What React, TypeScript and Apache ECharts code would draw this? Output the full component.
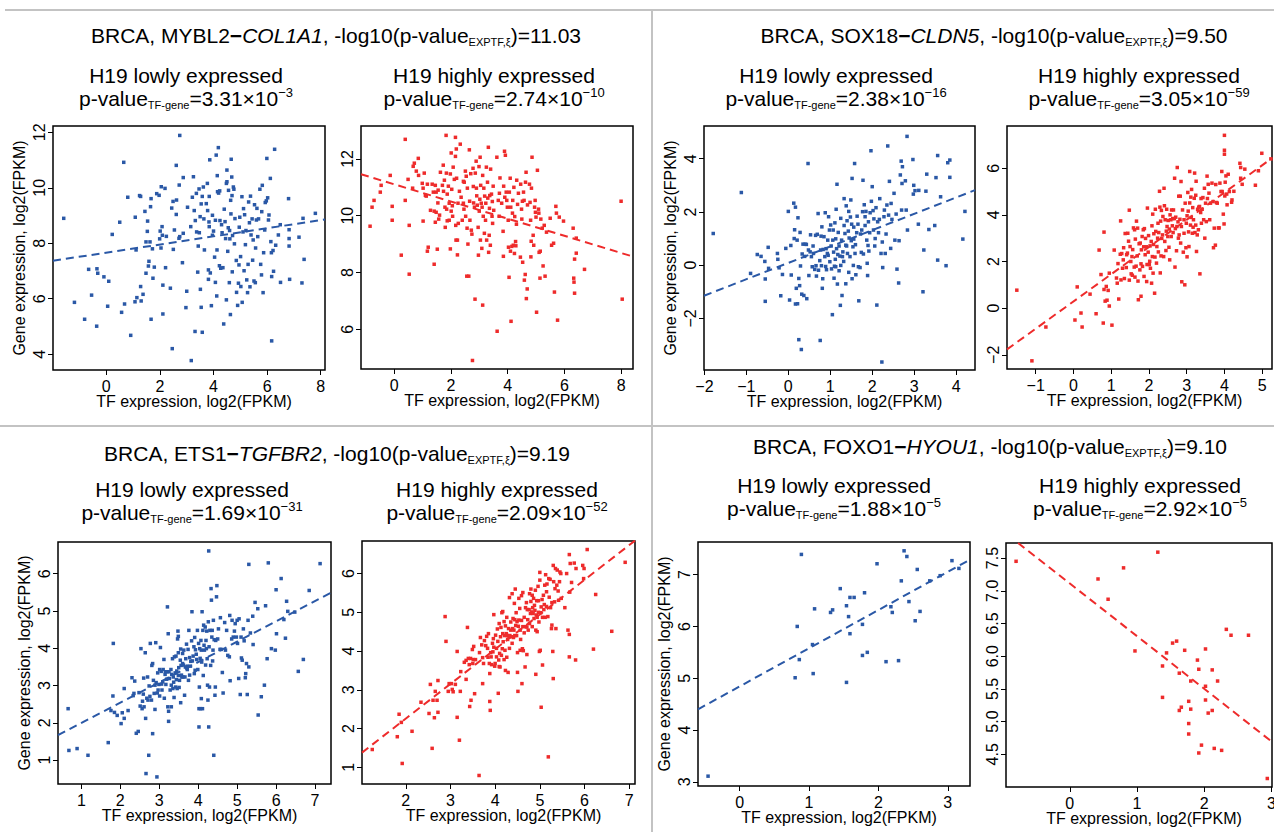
import React, { useEffect, useRef } from "react";
import * as echarts from "echarts";

// ---------------- DATA ----------------
// Panel 1: BRCA, MYBL2-COL1A1
const col1a1Low: number[][] = [
[-1.59,8.90],[-1.19,5.87],[-0.81,5.26],[-0.66,7.06],[-0.55,6.13],[-0.35,7.08],[-0.32,6.92],[-0.36,5.01],[-0.09,6.79],[0.05,5.73],[0.09,6.63],[0.22,8.32],[0.50,8.76],[0.57,5.51],[0.65,10.92],[0.68,5.81],[0.80,9.66],[0.91,4.68],[1.08,8.94],[1.11,7.76],[1.07,5.89],[1.14,6.04],[1.24,9.72],[1.28,9.69],[1.28,6.44],[1.30,5.92],[1.37,6.16],[1.44,9.15],[1.48,8.05],[1.48,6.92],[1.57,7.18],[1.54,8.80],[1.53,8.43],[1.59,7.35],[1.63,8.05],[1.65,9.32],[1.67,9.61],[1.67,5.26],[1.72,7.80],[1.74,6.74],[1.79,7.14],[1.88,9.79],[1.97,9.73],[1.99,8.16],[2.01,8.44],[2.04,7.83],[2.05,10.04],[2.08,8.60],[2.09,8.29],[2.11,6.49],[2.11,5.45],[2.19,9.98],[2.21,7.12],[2.24,8.25],[2.39,6.38],[2.44,9.27],[2.46,4.20],[2.49,9.51],[2.50,7.78],[2.54,8.48],[2.61,10.81],[2.61,9.04],[2.62,9.56],[2.71,8.18],[2.72,10.10],[2.74,11.89],[2.74,8.24],[2.84,7.30],[2.87,10.37],[2.87,8.36],[2.97,5.68],[3.00,6.27],[3.03,9.30],[3.15,8.60],[3.17,3.77],[3.21,9.66],[3.25,10.40],[3.28,9.18],[3.31,4.82],[3.32,8.82],[3.36,9.80],[3.37,8.41],[3.41,6.96],[3.43,7.90],[3.46,9.96],[3.47,8.38],[3.50,8.96],[3.51,6.34],[3.54,5.69],[3.54,9.42],[3.58,9.69],[3.58,4.79],[3.62,10.03],[3.64,8.88],[3.66,7.76],[3.73,9.43],[3.77,10.16],[3.78,9.18],[3.81,7.04],[3.81,6.70],[3.83,8.77],[3.84,8.60],[3.84,9.69],[3.86,11.01],[3.88,6.93],[3.92,5.75],[3.96,9.01],[3.96,8.29],[4.00,8.44],[4.04,7.50],[4.07,8.83],[4.07,6.59],[4.10,11.18],[4.12,6.10],[4.13,7.76],[4.14,10.44],[4.15,9.86],[4.18,11.45],[4.19,9.81],[4.22,7.19],[4.23,9.89],[4.24,8.82],[4.27,7.10],[4.30,8.67],[4.32,8.38],[4.35,7.12],[4.38,5.09],[4.40,9.23],[4.43,8.78],[4.45,8.17],[4.48,5.96],[4.48,10.16],[4.50,10.64],[4.50,10.22],[4.53,7.71],[4.55,8.56],[4.56,9.91],[4.59,6.58],[4.60,8.46],[4.61,8.16],[4.63,5.43],[4.64,9.55],[4.65,9.06],[4.66,11.03],[4.68,10.39],[4.69,9.72],[4.70,6.97],[4.71,8.28],[4.74,10.03],[4.76,9.95],[4.78,7.98],[4.80,8.89],[4.85,7.38],[4.86,6.23],[4.90,5.76],[4.93,6.56],[4.95,7.22],[4.96,8.58],[4.98,8.94],[5.01,7.52],[5.02,6.44],[5.06,9.68],[5.07,5.87],[5.10,8.41],[5.12,9.25],[5.14,7.01],[5.16,9.03],[5.19,7.95],[5.21,8.46],[5.24,6.68],[5.27,6.22],[5.29,7.24],[5.31,9.49],[5.34,8.74],[5.36,6.43],[5.38,9.70],[5.40,8.30],[5.44,8.88],[5.46,7.39],[5.48,8.12],[5.51,6.64],[5.53,9.39],[5.56,6.58],[5.57,7.83],[5.60,8.84],[5.62,9.26],[5.65,8.24],[5.68,8.88],[5.73,9.95],[5.76,7.24],[5.79,6.86],[5.80,9.14],[5.82,10.09],[5.85,6.22],[5.87,7.66],[5.91,8.48],[5.93,9.47],[5.97,9.53],[5.99,11.06],[6.02,9.64],[6.05,8.84],[6.07,9.02],[6.12,10.34],[6.14,8.06],[6.16,7.66],[6.17,6.80],[6.17,4.48],[6.22,7.74],[6.24,6.99],[6.28,11.39],[6.32,7.93],[6.42,8.30],[6.49,8.67],[6.50,6.59],[6.80,9.61],[6.82,8.49],[6.82,8.17],[6.82,7.90],[6.84,6.70],[7.19,8.22],[7.30,6.57],[7.34,8.90],[7.38,7.42],[7.80,9.08]
];
const col1a1High: number[][] = [
[-0.85,9.63],[-0.78,10.30],[-0.71,10.54],[-0.49,10.83],[-0.46,11.07],[-0.14,11.42],[-0.07,10.33],[-0.07,9.84],[0.39,12.69],[0.39,10.54],[0.49,11.28],[0.53,9.66],[0.53,7.94],[0.25,8.61],[0.65,10.97],[0.67,11.74],[0.71,11.85],[0.78,11.57],[0.85,12.02],[0.86,11.42],[0.99,11.14],[1.02,10.97],[1.02,9.81],[1.06,11.50],[1.10,10.72],[1.13,10.69],[1.17,11.11],[1.17,8.75],[1.20,8.89],[1.28,10.19],[1.34,11.11],[1.38,10.83],[1.41,8.29],[1.41,10.16],[1.45,11.07],[1.45,9.77],[1.48,10.83],[1.48,10.12],[1.52,8.82],[1.54,10.45],[1.55,10.90],[1.57,9.88],[1.60,10.02],[1.63,11.53],[1.70,11.07],[1.73,11.78],[1.74,10.86],[1.77,11.25],[1.79,10.30],[1.80,9.59],[1.83,12.83],[1.84,11.50],[1.85,10.23],[1.87,10.76],[1.87,9.82],[1.91,11.04],[1.94,10.44],[1.94,9.84],[1.98,8.83],[1.98,11.47],[2.01,12.21],[2.01,10.16],[2.03,10.93],[2.05,10.35],[2.06,9.98],[2.08,11.71],[2.12,11.28],[2.16,12.76],[2.16,12.09],[2.17,9.66],[2.18,9.14],[2.19,12.35],[2.20,11.32],[2.23,8.62],[2.23,9.14],[2.25,10.44],[2.26,9.73],[2.30,10.86],[2.33,12.52],[2.36,10.65],[2.40,9.84],[2.44,11.21],[2.44,10.44],[2.46,10.23],[2.47,11.18],[2.51,11.57],[2.52,9.98],[2.54,11.39],[2.56,7.87],[2.57,9.56],[2.58,10.97],[2.60,9.00],[2.63,7.87],[2.65,12.32],[2.66,10.51],[2.67,9.84],[2.70,11.48],[2.72,9.49],[2.74,9.35],[2.76,4.90],[2.78,11.67],[2.79,11.03],[2.80,10.45],[2.83,10.30],[2.85,7.06],[2.86,11.50],[2.89,11.92],[2.90,10.97],[2.91,10.70],[2.93,10.37],[2.96,9.59],[2.97,8.61],[2.99,11.73],[3.00,10.16],[3.02,10.58],[3.03,12.06],[3.04,9.14],[3.05,11.07],[3.07,10.44],[3.09,8.85],[3.10,10.30],[3.12,6.85],[3.12,11.42],[3.14,9.98],[3.16,10.97],[3.18,9.38],[3.19,10.69],[3.22,9.84],[3.23,10.44],[3.25,11.71],[3.26,9.14],[3.29,11.18],[3.30,10.62],[3.32,12.41],[3.33,8.71],[3.35,9.31],[3.36,10.26],[3.37,10.71],[3.39,8.96],[3.40,11.64],[3.43,10.76],[3.45,9.98],[3.46,10.50],[3.47,9.73],[3.49,11.04],[3.51,10.19],[3.62,12.06],[3.63,5.93],[3.67,10.54],[3.70,9.98],[3.71,10.79],[3.73,11.33],[3.79,10.44],[3.84,9.45],[3.85,8.57],[3.86,11.04],[3.89,12.27],[3.90,10.65],[3.92,12.13],[3.95,10.83],[3.97,10.54],[3.99,10.30],[4.02,9.84],[4.03,8.89],[4.05,7.83],[4.06,10.83],[4.09,11.32],[4.10,8.75],[4.11,10.30],[4.12,6.28],[4.15,8.92],[4.17,10.09],[4.18,10.54],[4.20,8.96],[4.22,11.00],[4.24,8.67],[4.25,9.97],[4.28,9.09],[4.29,8.94],[4.31,9.70],[4.32,11.25],[4.35,10.40],[4.38,10.79],[4.45,8.54],[4.46,11.11],[4.49,10.23],[4.50,9.88],[4.52,10.51],[4.53,8.36],[4.56,10.83],[4.58,10.54],[4.59,7.73],[4.62,7.93],[4.63,11.18],[4.65,11.53],[4.66,7.08],[4.69,7.42],[4.70,10.38],[4.77,11.11],[4.79,10.47],[4.81,9.84],[4.82,8.55],[4.83,9.10],[4.84,10.97],[4.86,12.06],[4.90,9.31],[4.92,8.96],[4.95,10.30],[4.97,10.54],[4.98,10.12],[5.00,9.95],[5.02,6.60],[5.05,11.60],[5.09,10.23],[5.10,10.09],[5.11,8.71],[5.14,7.80],[5.15,8.75],[5.17,9.88],[5.22,9.56],[5.25,8.23],[5.29,9.66],[5.32,7.87],[5.37,9.42],[5.50,9.91],[5.55,8.96],[5.62,9.03],[5.65,7.31],[5.70,10.33],[5.72,10.09],[5.76,6.32],[5.82,9.95],[5.97,9.81],[6.31,9.56],[6.33,7.80],[6.34,7.66],[6.36,7.27],[6.36,8.47],[6.42,8.68],[6.42,9.21],[6.71,8.11],[8.00,10.51],[8.04,7.06]
];
const col1a1LowFit: number[][] = [[-1.99, 7.37], [8.16, 8.86]];
const col1a1HighFit: number[][] = [[-1.17, 11.46], [8.42, 8.56]];

// Panel 2: BRCA, SOX18-CLDN5
const cldn5Low: number[][] = [
[-1.79,1.19],[-1.12,2.73],[-0.90,-0.31],[-0.74,0.40],[-0.65,0.33],[-0.56,0.14],[-0.55,-0.52],[-0.55,-1.36],[-0.48,0.67],[-0.47,-0.12],[-0.26,0.44],[-0.25,0.22],[-0.22,-0.10],[-0.18,-1.15],[-0.14,-0.35],[-0.06,0.63],[0.00,2.02],[0.03,-1.31],[0.06,0.74],[0.07,-0.37],[0.13,2.33],[0.14,1.00],[0.15,1.33],[0.17,2.18],[0.17,-1.46],[0.19,-0.87],[0.21,0.94],[0.22,-1.45],[0.23,1.78],[0.25,-0.50],[0.25,-2.80],[0.27,-0.77],[0.28,1.23],[0.29,-0.03],[0.31,-3.17],[0.32,-1.09],[0.33,0.42],[0.35,0.79],[0.37,-1.14],[0.39,0.33],[0.40,0.79],[0.43,0.78],[0.44,-1.26],[0.47,3.82],[0.48,0.57],[0.49,-0.39],[0.52,0.50],[0.53,1.14],[0.55,0.32],[0.57,-0.06],[0.59,0.72],[0.60,0.44],[0.63,-0.16],[0.65,1.12],[0.66,-0.02],[0.67,-0.41],[0.69,1.16],[0.71,1.94],[0.72,-0.19],[0.75,0.17],[0.76,-2.83],[0.77,0.57],[0.78,1.09],[0.79,-0.02],[0.80,1.44],[0.81,-0.87],[0.82,-0.51],[0.83,0.59],[0.85,1.07],[0.87,0.32],[0.88,1.97],[0.89,-0.05],[0.90,0.62],[0.91,-0.17],[0.93,0.44],[0.94,0.94],[0.95,0.37],[0.96,1.82],[0.98,1.32],[0.99,0.13],[1.01,1.51],[1.02,0.72],[1.03,-0.14],[1.05,-1.86],[1.06,0.94],[1.07,1.32],[1.08,0.49],[1.09,-0.49],[1.10,-0.04],[1.11,1.59],[1.12,0.22],[1.13,0.99],[1.13,-0.06],[1.14,2.10],[1.15,0.62],[1.16,3.04],[1.17,-0.71],[1.18,0.40],[1.19,1.23],[1.21,-0.21],[1.21,0.72],[1.23,0.34],[1.24,-1.51],[1.25,1.76],[1.25,-0.01],[1.27,0.94],[1.28,-1.14],[1.29,0.32],[1.30,0.50],[1.32,0.14],[1.33,1.49],[1.33,2.50],[1.35,1.19],[1.37,0.75],[1.37,-0.70],[1.38,2.23],[1.39,0.72],[1.40,1.67],[1.41,0.44],[1.43,1.28],[1.44,-0.27],[1.44,2.02],[1.45,1.02],[1.47,0.32],[1.48,1.81],[1.49,2.45],[1.50,0.92],[1.51,1.54],[1.52,-0.51],[1.52,3.26],[1.54,0.69],[1.55,-0.01],[1.56,1.43],[1.56,0.98],[1.58,3.82],[1.59,0.44],[1.60,0.77],[1.61,-0.36],[1.63,1.22],[1.64,1.84],[1.66,1.54],[1.67,-0.06],[1.68,-1.34],[1.71,-0.09],[1.72,1.17],[1.74,0.48],[1.75,1.32],[1.77,2.01],[1.78,3.19],[1.79,0.42],[1.81,2.27],[1.83,1.49],[1.83,1.82],[1.85,2.02],[1.87,0.94],[1.88,0.07],[1.89,-0.39],[1.90,0.74],[1.91,1.63],[1.92,0.53],[1.94,1.22],[1.95,1.97],[1.97,4.30],[1.98,2.40],[2.00,2.95],[2.02,2.05],[2.03,1.32],[2.04,1.74],[2.06,0.72],[2.07,1.00],[2.09,2.16],[2.11,-1.50],[2.13,1.63],[2.15,1.22],[2.17,1.72],[2.18,2.50],[2.21,0.44],[2.23,-3.64],[2.24,0.87],[2.25,-0.09],[2.28,1.82],[2.29,2.07],[2.31,0.44],[2.33,1.17],[2.35,2.26],[2.37,4.48],[2.39,1.88],[2.41,3.15],[2.44,0.63],[2.45,2.32],[2.47,1.72],[2.52,2.70],[2.54,0.94],[2.57,1.92],[2.59,-0.15],[2.63,-0.67],[2.64,0.92],[2.67,3.39],[2.69,3.91],[2.70,2.07],[2.71,3.07],[2.72,3.70],[2.79,3.17],[2.81,2.07],[2.84,1.32],[2.83,4.84],[2.97,3.97],[2.98,2.67],[2.99,3.00],[3.02,2.80],[3.10,1.54],[3.11,2.81],[3.21,-1.00],[3.23,0.57],[3.28,2.78],[3.30,3.42],[3.35,1.34],[3.49,1.49],[3.52,3.29],[3.56,4.12],[3.56,0.19],[3.63,2.57],[3.76,-0.02],[3.80,3.85],[3.85,3.95],[3.85,3.30],[4.16,0.98],[4.21,2.02]
];
const cldn5High: number[][] = [
[-1.50,0.77],[-1.10,-2.26],[-0.73,-0.81],[0.04,-0.51],[0.10,0.91],[0.20,-0.21],[0.23,-0.81],[0.44,0.60],[0.60,-0.24],[0.68,2.49],[0.73,1.44],[0.79,-0.64],[0.81,3.26],[0.81,0.80],[0.84,0.30],[0.87,0.93],[0.89,0.34],[0.92,0.76],[0.95,0.09],[0.95,1.50],[1.02,-0.73],[1.08,2.49],[1.14,1.29],[1.16,1.07],[1.18,1.91],[1.20,0.39],[1.24,2.31],[1.25,3.74],[1.26,1.21],[1.28,2.34],[1.30,1.71],[1.32,2.07],[1.33,2.59],[1.35,1.27],[1.37,3.20],[1.40,1.74],[1.41,2.29],[1.43,2.36],[1.44,3.21],[1.46,2.87],[1.48,4.20],[1.48,1.20],[1.50,2.64],[1.52,2.00],[1.53,1.47],[1.55,2.21],[1.56,1.41],[1.57,2.51],[1.59,3.44],[1.61,1.76],[1.62,3.36],[1.63,1.33],[1.64,2.96],[1.66,1.80],[1.67,3.73],[1.69,2.24],[1.70,3.43],[1.71,1.16],[1.72,0.36],[1.74,2.76],[1.76,1.64],[1.77,2.79],[1.79,0.51],[1.79,1.90],[1.80,2.50],[1.82,3.07],[1.83,1.79],[1.85,3.36],[1.86,2.63],[1.87,1.36],[1.88,3.41],[1.90,2.29],[1.91,2.99],[1.93,2.63],[1.94,1.14],[1.95,1.87],[1.96,4.29],[1.98,2.40],[1.99,3.11],[2.01,1.87],[2.02,2.01],[2.03,2.67],[2.04,1.71],[2.06,2.86],[2.07,1.07],[2.08,3.53],[2.09,2.21],[2.10,4.03],[2.11,1.50],[2.12,2.73],[2.13,3.19],[2.15,0.64],[2.16,2.19],[2.17,4.24],[2.18,3.29],[2.20,1.93],[2.21,2.64],[2.23,3.00],[2.24,3.64],[2.25,2.41],[2.26,3.24],[2.28,5.01],[2.29,4.33],[2.30,1.51],[2.31,3.73],[2.32,2.24],[2.33,4.19],[2.34,2.99],[2.36,3.14],[2.37,3.93],[2.39,2.21],[2.40,5.14],[2.41,4.39],[2.42,2.86],[2.43,3.79],[2.45,2.47],[2.46,3.30],[2.47,4.24],[2.48,3.50],[2.50,3.07],[2.51,3.76],[2.53,2.61],[2.54,3.39],[2.55,2.07],[2.56,4.00],[2.58,3.79],[2.59,3.07],[2.60,4.21],[2.62,3.53],[2.63,3.84],[2.64,3.24],[2.65,4.21],[2.67,3.84],[2.68,5.57],[2.69,1.76],[2.70,3.41],[2.71,3.90],[2.73,2.46],[2.74,3.50],[2.75,6.03],[2.77,3.70],[2.78,3.00],[2.79,4.80],[2.80,3.14],[2.82,3.81],[2.83,4.80],[2.84,2.79],[2.85,5.43],[2.86,3.50],[2.87,1.13],[2.89,4.21],[2.91,2.40],[2.93,3.79],[2.93,3.21],[2.95,1.00],[2.96,4.50],[2.98,2.59],[2.99,3.64],[3.01,2.20],[3.01,3.96],[3.03,4.96],[3.04,4.16],[3.05,3.27],[3.06,2.64],[3.08,4.51],[3.08,5.86],[3.10,3.56],[3.11,4.76],[3.12,3.89],[3.13,5.09],[3.15,3.21],[3.16,4.31],[3.17,3.47],[3.18,3.79],[3.20,4.71],[3.21,5.79],[3.22,3.24],[3.24,4.84],[3.24,3.56],[3.25,5.44],[3.26,2.43],[3.28,3.14],[3.29,4.24],[3.31,3.36],[3.32,4.33],[3.34,4.36],[3.35,1.47],[3.37,4.10],[3.38,4.70],[3.39,3.64],[3.41,4.24],[3.43,4.74],[3.45,3.79],[3.47,5.14],[3.48,3.00],[3.50,4.50],[3.52,3.71],[3.54,5.66],[3.55,4.70],[3.57,5.31],[3.59,4.93],[3.61,3.79],[3.63,4.50],[3.67,5.36],[3.70,4.57],[3.71,2.59],[3.73,3.43],[3.76,2.70],[3.77,5.30],[3.79,4.53],[3.81,4.50],[3.84,3.44],[3.86,3.44],[3.88,5.36],[3.91,5.00],[3.93,5.86],[3.94,5.00],[3.97,4.03],[3.99,3.61],[4.00,7.41],[4.00,6.77],[4.00,6.60],[4.01,4.81],[4.02,5.40],[4.04,5.67],[4.06,4.89],[4.07,4.43],[4.10,5.74],[4.13,5.00],[4.19,4.54],[4.20,4.64],[4.25,5.01],[4.41,6.21],[4.43,6.03],[4.43,5.57],[4.47,5.31],[4.54,5.96],[4.82,5.27],[4.90,5.89],[4.99,6.64],[5.23,6.40]
];
const cldn5LowFit: number[][] = [[-2.01, -1.15], [4.45, 2.82]];
const cldn5HighFit: number[][] = [[-1.76, -1.77], [5.26, 6.43]];

// Panel 3: BRCA, ETS1-TGFBR2
const tgfbr2Low: number[][] = [
[0.66,2.38],[0.68,1.26],[0.89,1.31],[1.17,1.13],[1.69,1.47],[1.76,2.33],[1.81,2.72],[1.82,4.13],[1.85,2.28],[1.92,2.20],[2.02,1.98],[2.05,2.27],[2.10,2.12],[2.10,2.92],[2.20,2.33],[2.30,3.21],[2.33,2.73],[2.35,2.79],[2.37,3.12],[2.41,1.72],[2.46,1.77],[2.48,2.81],[2.51,2.45],[2.53,3.99],[2.56,2.38],[2.57,2.58],[2.59,2.77],[2.60,3.20],[2.61,2.43],[2.64,3.88],[2.65,2.12],[2.66,0.64],[2.68,2.66],[2.70,3.23],[2.71,2.61],[2.73,1.13],[2.74,2.99],[2.76,2.71],[2.77,4.13],[2.80,2.61],[2.81,3.54],[2.83,1.71],[2.83,3.59],[2.85,3.14],[2.87,2.79],[2.89,2.36],[2.89,3.01],[2.91,4.15],[2.92,3.08],[2.94,0.55],[2.95,2.80],[2.96,3.34],[2.97,2.88],[2.99,3.03],[3.01,3.43],[3.01,2.72],[3.03,4.02],[3.05,3.38],[3.06,3.04],[3.07,2.88],[3.09,3.10],[3.10,3.43],[3.12,3.70],[3.13,2.66],[3.15,3.30],[3.16,3.37],[3.17,3.03],[3.19,3.17],[3.20,3.37],[3.21,5.11],[3.22,2.43],[3.23,4.39],[3.24,2.04],[3.24,2.31],[3.25,3.37],[3.26,3.19],[3.28,2.88],[3.30,3.43],[3.31,3.01],[3.31,2.43],[3.32,3.30],[3.34,3.72],[3.35,2.92],[3.36,3.23],[3.37,3.09],[3.38,2.68],[3.39,3.77],[3.41,3.34],[3.42,2.96],[3.43,3.79],[3.44,3.16],[3.45,3.39],[3.46,2.92],[3.47,4.25],[3.48,4.46],[3.49,4.32],[3.49,3.88],[3.49,3.27],[3.50,3.48],[3.51,2.95],[3.52,3.14],[3.54,3.68],[3.55,2.54],[3.55,3.98],[3.56,3.54],[3.57,3.28],[3.58,3.23],[3.60,3.59],[3.60,3.86],[3.61,3.23],[3.62,3.55],[3.63,3.95],[3.65,2.74],[3.66,3.23],[3.67,3.50],[3.68,3.72],[3.70,4.11],[3.72,3.43],[3.72,3.52],[3.74,3.97],[3.75,3.14],[3.76,4.48],[3.78,3.28],[3.78,3.75],[3.80,3.52],[3.81,3.65],[3.83,4.20],[3.84,4.98],[3.85,3.66],[3.87,3.79],[3.89,4.04],[3.90,3.32],[3.91,4.29],[3.92,3.41],[3.93,3.96],[3.95,3.84],[3.96,3.70],[3.98,4.48],[3.99,3.43],[4.01,4.13],[4.02,1.89],[4.02,2.38],[4.03,2.96],[4.04,3.99],[4.05,3.73],[4.06,2.38],[4.07,4.21],[4.08,2.65],[4.08,3.95],[4.09,3.63],[4.10,4.98],[4.11,2.38],[4.12,4.48],[4.13,3.27],[4.14,4.62],[4.15,4.08],[4.16,3.95],[4.18,4.57],[4.19,3.55],[4.20,4.21],[4.21,3.99],[4.22,4.46],[4.23,3.72],[4.24,3.01],[4.25,2.61],[4.26,4.71],[4.27,1.89],[4.27,6.61],[4.28,4.04],[4.29,2.96],[4.30,4.48],[4.32,3.54],[4.33,5.60],[4.34,5.29],[4.35,4.30],[4.36,4.48],[4.37,3.66],[4.38,3.95],[4.39,4.75],[4.40,1.13],[4.41,4.23],[4.43,2.74],[4.44,2.96],[4.45,4.21],[4.47,5.38],[4.48,5.68],[4.50,4.25],[4.52,4.52],[4.56,3.97],[4.57,4.82],[4.59,3.97],[4.62,3.35],[4.64,2.80],[4.68,4.69],[4.70,3.95],[4.73,4.48],[4.76,3.81],[4.80,3.77],[4.81,4.88],[4.82,3.13],[4.86,4.25],[4.87,4.75],[4.90,4.30],[4.93,4.46],[4.95,4.66],[4.98,4.30],[5.00,4.75],[5.01,4.13],[5.04,3.19],[5.05,4.79],[5.08,2.76],[5.10,4.30],[5.11,3.74],[5.13,3.68],[5.16,4.52],[5.18,4.20],[5.21,3.21],[5.22,3.32],[5.24,3.59],[5.26,2.76],[5.28,4.75],[5.30,3.50],[5.34,4.41],[5.40,4.86],[5.41,4.10],[5.46,5.23],[5.53,5.06],[5.54,2.21],[5.62,2.70],[5.70,3.01],[5.73,5.14],[5.77,3.72],[5.80,6.29],[5.88,3.99],[5.98,3.95],[6.00,5.57],[6.01,4.39],[6.13,5.87],[6.20,4.77],[6.24,4.27],[6.27,5.26],[6.30,4.99],[6.48,4.97],[6.57,3.38],[6.70,3.70],[6.85,5.55],[7.13,6.27],[5.30,6.25]
];
const tgfbr2High: number[][] = [
[1.25,1.46],[1.81,1.79],[1.85,2.37],[1.92,1.10],[1.90,2.16],[2.14,1.93],[2.34,2.68],[2.52,2.39],[2.55,3.14],[2.59,1.49],[2.64,2.28],[2.61,2.73],[2.66,2.96],[2.70,2.73],[2.72,3.24],[2.72,2.42],[2.88,4.89],[2.90,4.25],[2.95,2.96],[2.97,3.16],[3.02,3.16],[3.04,3.01],[3.06,2.95],[3.11,3.14],[3.15,2.29],[3.15,3.99],[3.20,1.70],[3.22,2.96],[3.23,3.47],[3.31,3.71],[3.35,3.27],[3.35,3.76],[3.38,4.61],[3.40,3.81],[3.42,3.65],[3.43,2.57],[3.45,3.81],[3.46,2.73],[3.49,4.04],[3.50,3.68],[3.51,3.78],[3.52,4.12],[3.54,2.90],[3.56,3.78],[3.64,0.79],[3.65,3.96],[3.67,4.35],[3.70,4.16],[3.72,3.16],[3.72,3.83],[3.74,3.68],[3.76,4.27],[3.79,4.14],[3.81,4.38],[3.83,4.07],[3.84,3.84],[3.85,4.45],[3.87,3.68],[3.88,3.42],[3.88,2.70],[3.89,2.47],[3.90,3.96],[3.91,3.85],[3.92,3.65],[3.94,4.20],[3.95,3.98],[3.96,4.32],[3.97,4.10],[3.97,4.94],[3.99,3.61],[4.00,3.68],[4.01,4.41],[4.03,3.85],[4.03,4.07],[4.05,4.57],[4.06,4.25],[4.07,2.91],[4.08,3.77],[4.09,3.60],[4.09,4.71],[4.10,3.94],[4.11,3.59],[4.12,4.37],[4.13,4.61],[4.14,3.89],[4.15,4.99],[4.16,4.06],[4.17,4.45],[4.17,5.02],[4.18,4.24],[4.20,3.78],[4.20,4.76],[4.21,4.40],[4.22,4.02],[4.23,4.65],[4.23,3.50],[4.25,4.45],[4.26,3.84],[4.26,4.87],[4.27,4.40],[4.28,4.30],[4.29,3.45],[4.30,4.58],[4.31,4.37],[4.32,5.38],[4.32,4.07],[4.33,4.40],[4.35,4.54],[4.35,4.75],[4.37,4.37],[4.38,5.48],[4.38,4.20],[4.39,4.58],[4.40,4.84],[4.41,4.35],[4.42,4.54],[4.43,5.23],[4.44,4.81],[4.44,4.40],[4.45,5.60],[4.46,4.66],[4.47,4.99],[4.48,4.40],[4.49,4.76],[4.50,3.96],[4.50,3.45],[4.51,2.96],[4.52,4.64],[4.53,5.36],[4.53,4.80],[4.55,5.10],[4.56,4.54],[4.56,4.02],[4.57,4.30],[4.59,4.79],[4.59,5.43],[4.60,3.16],[4.61,4.06],[4.62,4.63],[4.62,5.51],[4.63,4.01],[4.65,4.87],[4.65,4.47],[4.67,3.59],[4.68,4.63],[4.68,5.12],[4.70,5.25],[4.71,3.91],[4.71,4.62],[4.72,5.07],[4.73,4.81],[4.74,4.54],[4.76,5.07],[4.77,5.48],[4.77,4.71],[4.79,4.97],[4.80,5.60],[4.80,5.28],[4.82,5.01],[4.83,5.44],[4.83,4.63],[4.84,5.12],[4.85,4.97],[4.86,5.36],[4.87,4.84],[4.88,5.18],[4.89,5.05],[4.90,5.57],[4.91,3.40],[4.91,4.54],[4.92,4.93],[4.93,5.30],[4.94,4.50],[4.94,4.87],[4.96,5.67],[4.97,5.00],[4.97,5.30],[4.98,4.75],[4.99,3.99],[5.00,6.03],[5.00,5.83],[5.01,4.02],[5.02,4.99],[5.03,2.55],[5.03,5.14],[5.05,5.33],[5.06,3.64],[5.06,4.87],[5.08,5.44],[5.09,5.07],[5.10,5.20],[5.11,5.70],[5.12,4.87],[5.13,5.97],[5.15,5.53],[5.15,5.15],[5.16,5.73],[5.18,4.89],[5.19,1.27],[5.20,5.87],[5.21,5.39],[5.23,5.85],[5.24,5.12],[5.26,4.58],[5.27,4.67],[5.27,5.25],[5.29,3.99],[5.30,6.21],[5.30,3.29],[5.31,5.79],[5.33,5.27],[5.34,5.61],[5.35,6.13],[5.36,4.58],[5.38,5.70],[5.39,6.09],[5.41,5.55],[5.42,5.31],[5.44,5.79],[5.45,6.04],[5.47,6.00],[5.48,5.36],[5.56,5.12],[5.60,6.00],[5.63,4.54],[5.66,4.43],[5.66,6.49],[5.66,3.85],[5.67,5.52],[5.68,6.26],[5.71,5.77],[5.77,6.27],[5.80,3.77],[5.81,6.13],[5.96,6.21],[5.98,5.87],[5.99,6.13],[6.06,6.62],[6.20,4.05],[6.25,5.46],[6.61,4.51],[6.91,6.29]
];
const tgfbr2LowFit: number[][] = [[0.40, 1.67], [7.41, 5.49]];
const tgfbr2HighFit: number[][] = [[1.02, 1.38], [7.13, 6.85]];

// Panel 4: BRCA, FOXO1-HYOU1
const hyou1Low: number[][] = [
[-0.455,3.11],[0.89,7.39],[0.83,6.00],[0.80,5.01],[0.86,5.36],[1.06,5.09],[1.05,5.65],[1.08,6.34],[1.31,6.27],[1.34,6.32],[1.45,6.73],[1.54,6.40],[1.57,6.19],[1.59,5.86],[1.54,4.92],[1.59,6.56],[1.65,6.56],[1.77,6.04],[1.80,6.65],[1.77,5.44],[1.84,5.50],[1.98,7.21],[2.11,5.32],[2.18,6.38],[2.20,6.27],[2.29,5.34],[2.33,6.88],[2.37,7.46],[2.41,7.35],[2.44,6.48],[2.53,6.11],[2.56,7.10],[2.60,6.29],[2.74,6.88],[2.89,6.98],[3.06,7.27],[3.16,7.12]
];
const hyou1High: number[][] = [
[-0.80,7.45],[0.42,7.18],[0.57,6.87],[0.80,7.35],[1.31,7.59],[0.97,6.08],[1.38,5.85],[1.38,5.37],[1.44,6.05],[1.53,6.20],[1.59,6.23],[1.71,6.09],[1.63,5.74],[1.63,5.17],[1.66,5.22],[1.77,5.31],[1.80,5.62],[1.80,5.19],[1.77,4.97],[1.77,4.81],[1.90,5.94],[1.92,5.80],[1.96,4.64],[1.92,4.52],[2.02,6.11],[2.02,5.54],[2.02,5.33],[2.06,5.13],[2.12,5.79],[2.12,5.17],[2.15,4.59],[2.20,5.62],[2.26,4.56],[2.33,6.41],[2.40,6.32],[2.66,6.32],[2.94,4.13]
];
const hyou1LowFit: number[][] = [[-0.60, 4.40], [3.32, 7.29]];
const hyou1HighFit: number[][] = [[-0.77, 7.73], [3.01, 4.69]];

// axis extents (data units) and tick labels
const xRangeA = [-1.99, 8.16], yRangeA = [3.43, 12.23];
const xRangeB = [-1.17, 8.42], yRangeB = [4.6, 13.16];
const xRangeC = [-2.01, 4.45], yRangeC = [-3.94, 5.23];
const xRangeD = [-1.76, 5.26], yRangeD = [-2.61, 7.81];
const xRangeE = [0.40, 7.41], yRangeE = [0.36, 6.85];
const xRangeF = [1.02, 7.13], yRangeF = [0.57, 6.84];
const xRangeG = [-0.60, 3.32], yRangeG = [2.92, 7.63];
const xRangeH = [-0.95, 3.01], yRangeH = [4.0, 7.73];

const xTicksA = [0, 2, 4, 6, 8], yTicksA = [4, 6, 8, 10, 12];
const xTicksB = [0, 2, 4, 6, 8], yTicksB = [6, 8, 10, 12];
const xTicksC = [-2, -1, 0, 1, 2, 3, 4], yTicksC = [-2, 0, 2, 4];
const xTicksD = [-1, 0, 1, 2, 3, 4, 5], yTicksD = [-2, 0, 2, 4, 6];
const xTicksE = [1, 2, 3, 4, 5, 6, 7], yTicksE = [1, 2, 3, 4, 5, 6];
const xTicksF = [2, 3, 4, 5, 6, 7], yTicksF = [1, 2, 3, 4, 5, 6];
const xTicksG = [0, 1, 2, 3], yTicksG = [3, 4, 5, 6, 7];
const xTicksH = [0, 1, 2, 3], yTicksH = [4.5, 5.0, 5.5, 6.0, 6.5, 7.0, 7.5];

// titles
const panelTF = ["MYBL2", "SOX18", "ETS1", "FOXO1"];
const panelGene = ["COL1A1", "CLDN5", "TGFBR2", "HYOU1"];
const panelScore = ["11.03", "9.50", "9.19", "9.10"];
const pvalMant = ["3.31", "2.74", "2.38", "3.05", "1.69", "2.09", "1.88", "2.92"];
const pvalExp = ["−3", "−10", "−16", "−59", "−31", "−52", "−5", "−5"];
const groupLabels = ["H19 lowly expressed", "H19 highly expressed"];

// ---------------- STYLE / LAYOUT ----------------
const FONT = "'Liberation Sans', Arial, Helvetica, sans-serif";
const BLUE = "#2a58a6";
const RED = "#ee2b2b";
const TITLE_SIZE = 21;

type Plot = {
  box: number[]; // left, top, right, bottom (px)
  xr: number[]; yr: number[];
  xt: number[]; yt: number[];
  pts: number[][]; fit: number[][];
  color: string; yName: boolean; dec?: boolean;
};

const plots: Plot[] = [
  { box: [53, 126, 325, 370], xr: xRangeA, yr: yRangeA, xt: xTicksA, yt: yTicksA, pts: col1a1Low, fit: col1a1LowFit, color: BLUE, yName: true },
  { box: [361, 126, 633, 369], xr: xRangeB, yr: yRangeB, xt: xTicksB, yt: yTicksB, pts: col1a1High, fit: col1a1HighFit, color: RED, yName: false },
  { box: [704, 126, 975, 370], xr: xRangeC, yr: yRangeC, xt: xTicksC, yt: yTicksC, pts: cldn5Low, fit: cldn5LowFit, color: BLUE, yName: true },
  { box: [1007, 126, 1272, 369], xr: xRangeD, yr: yRangeD, xt: xTicksD, yt: yTicksD, pts: cldn5High, fit: cldn5HighFit, color: RED, yName: false },
  { box: [58, 542, 331, 784], xr: xRangeE, yr: yRangeE, xt: xTicksE, yt: yTicksE, pts: tgfbr2Low, fit: tgfbr2LowFit, color: BLUE, yName: true },
  { box: [362, 541, 635, 784], xr: xRangeF, yr: yRangeF, xt: xTicksF, yt: yTicksF, pts: tgfbr2High, fit: tgfbr2HighFit, color: RED, yName: false },
  { box: [698, 542, 970, 786], xr: xRangeG, yr: yRangeG, xt: xTicksG, yt: yTicksG, pts: hyou1Low, fit: hyou1LowFit, color: BLUE, yName: true },
  { box: [1006, 543, 1272, 787], xr: xRangeH, yr: yRangeH, xt: xTicksH, yt: yTicksH, pts: hyou1High, fit: hyou1HighFit, color: RED, yName: false, dec: true },
];

// panel title positions: [centerX, titleY, sub1Y, sub2Y]
const panelPos = [
  [336, 35, 75, 98],
  [994, 35, 75, 98],
  [337, 453, 489, 512],
  [990, 446, 485, 508],
];
const subCenterX = [186, 494, 836, 1139, 192, 497, 834, 1140];

const richStyles = {
  s: { fontSize: 11, lineHeight: 11, verticalAlign: "bottom", fontFamily: FONT, fill: "#000" },
  p: { fontSize: 13, lineHeight: 15, verticalAlign: "top", fontFamily: FONT, fill: "#000" },
  i: { fontSize: TITLE_SIZE, lineHeight: 25, fontStyle: "italic", fontFamily: FONT, fill: "#000" },
  d: { fontSize: TITLE_SIZE, lineHeight: 25, fontWeight: "bold", fontFamily: FONT, fill: "#000" },
};

function textEl(x: number, y: number, text: string, size: number, rich = false, rotation = 0) {
  const style: any = {
    text,
    fontFamily: FONT,
    fontSize: size,
    lineHeight: size === TITLE_SIZE ? 25 : size + 4,
    fill: "#000",
    align: "center",
    verticalAlign: "middle",
    textAlign: "center",
    textVerticalAlign: "middle",
  };
  if (rich) style.rich = richStyles;
  return { type: "text", x, y, rotation, silent: true, style };
}

function fmt(v: number, dec?: boolean) {
  const s = dec ? v.toFixed(1) : String(v);
  return s.replace("-", "\u2212");
}

function buildOption() {
  const grid: any[] = [], xAxis: any[] = [], yAxis: any[] = [], series: any[] = [], graphic: any[] = [];
  plots.forEach((p, i) => {
    const [l, t, r, b] = p.box;
    grid.push({
      left: l, top: t, width: r - l, height: b - t,
      show: true, borderColor: "#000", borderWidth: 1.5, backgroundColor: "transparent",
      containLabel: false, outerBoundsMode: "none",
    });
    const axisCommon = {
      type: "value",
      gridIndex: i,
      splitLine: { show: false },
      axisLine: { show: false, onZero: false },
    };
    xAxis.push({
      ...axisCommon,
      min: p.xr[0], max: p.xr[1],
      axisTick: { show: true, length: 5, inside: false, lineStyle: { color: "#000", width: 1 }, customValues: p.xt },
      axisLabel: { show: true, margin: 8, fontSize: 16, fontFamily: FONT, color: "#000", customValues: p.xt, formatter: (v: number) => fmt(v) },
    });
    yAxis.push({
      ...axisCommon,
      min: p.yr[0], max: p.yr[1],
      axisTick: { show: true, length: 5, inside: false, lineStyle: { color: "#000", width: 1 }, customValues: p.yt },
      axisLabel: { show: true, margin: 6, rotate: 90, fontSize: 16, fontFamily: FONT, color: "#000", customValues: p.yt, formatter: (v: number) => fmt(v, p.dec) },
    });
    series.push({
      type: "scatter", xAxisIndex: i, yAxisIndex: i,
      data: p.pts, symbol: "rect", symbolSize: 3.5,
      itemStyle: { color: p.color, opacity: 1 },
      silent: true,
    });
    series.push({
      type: "line", xAxisIndex: i, yAxisIndex: i,
      data: p.fit, symbol: "none", clip: true, silent: true,
      lineStyle: { color: p.color, width: 2, type: [8, 5] },
    });
    // x-axis name
    graphic.push(textEl((l + r) / 2 + 5, b + 31, "TF expression, log2(FPKM)", 16));
    if (p.yName) {
      graphic.push(textEl(l - 34, (t + b) / 2, "Gene expression, log2(FPKM)", 16, false, Math.PI / 2));
    }
    // subtitles
    const pp = panelPos[Math.floor(i / 2)];
    graphic.push(textEl(subCenterX[i], pp[2], groupLabels[i % 2], TITLE_SIZE));
    graphic.push(textEl(subCenterX[i], pp[3],
      `p-value{s|TF-gene}=${pvalMant[i]}×10{p|${pvalExp[i]}}`, TITLE_SIZE, true));
  });
  panelPos.forEach((pp, k) => {
    graphic.push(textEl(pp[0], pp[1],
      `BRCA, ${panelTF[k]}{d|\u2212}{i|${panelGene[k]}}, -log10(p-value{s|EXPTF,ξ})=${panelScore[k]}`, TITLE_SIZE, true));
  });
  // dividers
  const divider = { stroke: "#c3c3c3", lineWidth: 2 };
  graphic.push({ type: "line", silent: true, shape: { x1: 5, y1: 10, x2: 1274, y2: 10 }, style: divider });
  graphic.push({ type: "line", silent: true, shape: { x1: 0, y1: 426, x2: 1274, y2: 426 }, style: divider });
  graphic.push({ type: "line", silent: true, shape: { x1: 652, y1: 10, x2: 652, y2: 832 }, style: divider });

  return {
    animation: false,
    backgroundColor: "#fff",
    grid, xAxis, yAxis, series, graphic,
  };
}

export default function App() {
  const ref = useRef<HTMLDivElement>(null);
  useEffect(() => {
    const chart = echarts.init(ref.current!, null, { renderer: "svg" });
    chart.setOption(buildOption() as any);
    return () => chart.dispose();
  }, []);
  return (
    <div
      ref={ref}
      style={{ position: "absolute", left: 0, top: 0, width: 1274, height: 832, background: "#fff" }}
    />
  );
}
